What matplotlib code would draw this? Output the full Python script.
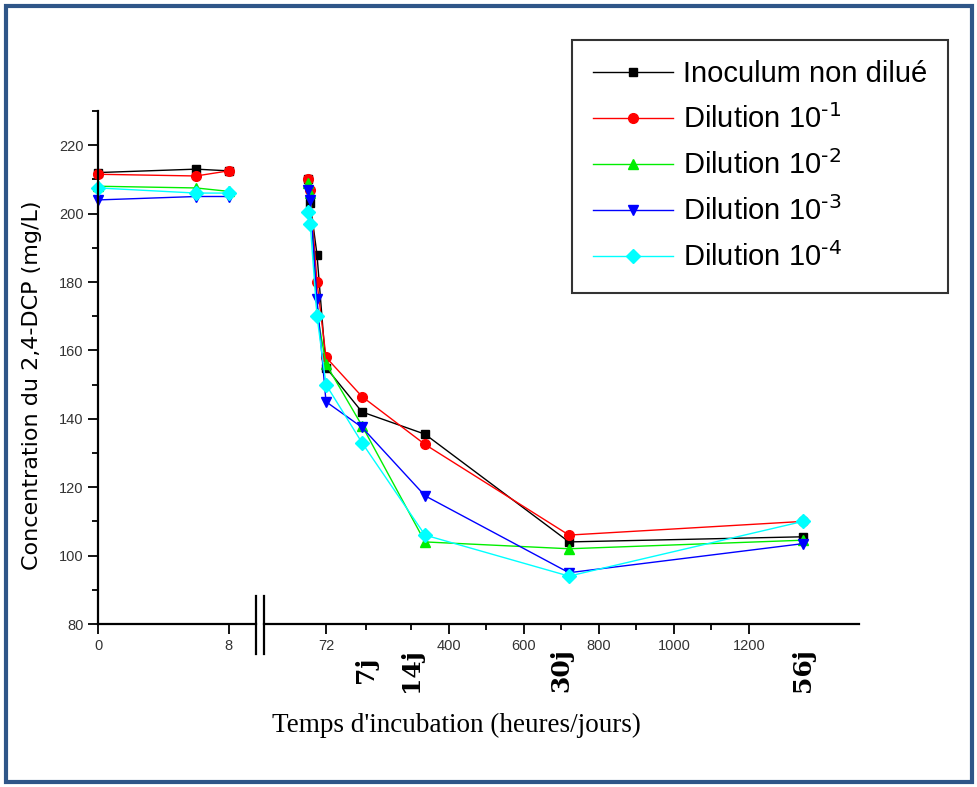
import numpy as np
import matplotlib
matplotlib.use("Agg")
import matplotlib.pyplot as plt
from matplotlib.lines import Line2D
from matplotlib.patches import Rectangle

plt.rcParams['font.family'] = ['Liberation Sans', 'DejaVu Sans']
plt.rcParams['mathtext.default'] = 'regular'

W, H = 978, 787

# sampling times (hours), before and after the axis break
t_left = [0, 6, 8]
t_right = [24, 30, 48, 72, 168, 336, 720, 1344]

# 2,4-DCP concentration (mg/L)
black_l = [212, 213, 212.5]
red_l = [211.5, 211, 212.5]
green_l = [208, 207.5, 206.5]
blue_l = [204, 205, 205]
cyan_l = [207.5, 206, 206]

black_r = [210, 203, 188, 155, 142, 135.5, 104, 105.5]
red_r = [210, 207, 180, 158, 146.5, 132.5, 106, 110]
green_r = [209, 206, 171, 156, 138, 104, 102, 104.5]
blue_r = [207, 204, 175, 145, 137.5, 117.5, 95, 103.5]
cyan_r = [200.5, 197, 170, 150, 133, 106, 94, 110]

labels = ['Inoculum non dilué', r'Dilution 10$^{\text{-1}}$', r'Dilution 10$^{\text{-2}}$',
          r'Dilution 10$^{\text{-3}}$', r'Dilution 10$^{\text{-4}}$']
colors = ['#000000', '#ff0000', '#00ee00', '#0000ff', '#00ffff']
markers = ['s', 'o', '^', 'v', 'D']
msizes = [6, 7, 7.5, 7.5, 7]

left_series = [black_l, red_l, green_l, blue_l, cyan_l]
right_series = [black_r, red_r, green_r, blue_r, cyan_r]


def fx(px):
    return px / W


def fy(py):
    return 1 - py / H


fig = plt.figure(figsize=(W / 100, H / 100), dpi=100)

y0, y1 = 624, 111
axL = fig.add_axes([fx(98.3), fy(y0), (255.7 - 98.3) / W, (y0 - y1) / H])
axR = fig.add_axes([fx(264.3), fy(y0), (858.6 - 264.3) / W, (y0 - y1) / H])

for i in range(5):
    axL.plot(t_left, left_series[i], color=colors[i], marker=markers[i],
             markersize=msizes[i], linewidth=1.0, clip_on=False)
    axR.plot(t_right, right_series[i], color=colors[i], marker=markers[i],
             markersize=msizes[i], linewidth=1.0, clip_on=False)

for ax in (axL, axR):
    ax.set_ylim(80, 230)
    ax.spines['top'].set_visible(False)
    ax.spines['right'].set_visible(False)
    ax.spines['bottom'].set_linewidth(1.6)
    ax.tick_params(axis='both', which='major', direction='out', length=7,
                   width=1.3, labelsize=10.5, labelcolor='#333333')
    ax.tick_params(axis='both', which='minor', direction='out', length=4, width=1.3)

axL.set_xlim(0, (255.7 - 98.3) / 16.3)
axL.set_xticks([0, 8])
axL.set_xticklabels(['0', '8'])
axL.set_yticks(np.arange(80, 221, 20))
axL.set_yticks(np.arange(90, 231, 20), minor=True)
axL.spines['left'].set_linewidth(1.6)
axL.set_ylabel('Concentration du 2,4-DCP (mg/L)', fontsize=16, family='DejaVu Sans')
axL.yaxis.set_label_coords((42 - 98.3) / 157.4, 0.466)

axR.set_xlim(-(299 - 264.3) / 0.375, (858.6 - 299) / 0.375)
axR.spines['left'].set_visible(False)
axR.set_yticks([])
axR.set_xticks([72, 400, 600, 800, 1000, 1200])
axR.set_xticks([180, 300, 500, 700, 900, 1100], minor=True)

# day labels written under the time axis
for xv, txt in [(180, '7j'), (300, '14j'), (700, '30j'), (1344, '56j')]:
    axR.annotate(txt, xy=(xv, 80), xycoords='data', xytext=(0, -33),
                 textcoords='offset points', rotation=90, ha='center', va='center',
                 fontsize=18, fontweight='bold', family='DejaVu Serif')

# axis break marks
for bx in (255.7, 264.3):
    fig.add_artist(Line2D([fx(bx), fx(bx)], [fy(596), fy(654)],
                          color='black', linewidth=1.6))

fig.text(fx(456), fy(725), "Temps d'incubation (heures/jours)", ha='center',
         va='center', fontsize=19.5, family='Liberation Serif')

handles = [Line2D([], [], color=colors[i], marker=markers[i], markersize=msizes[i],
                  linewidth=1.0) for i in range(5)]
leg = fig.legend(handles, labels, loc='upper right',
                 bbox_to_anchor=(fx(948), fy(40)), borderaxespad=0,
                 fontsize=21, handlelength=2.75, handletextpad=0.35,
                 labelspacing=0.55, borderpad=0.7, frameon=True, fancybox=False)
leg.get_frame().set_edgecolor('black')
leg.get_frame().set_linewidth(1.5)

fig.add_artist(Rectangle((fx(6), fy(782)), (972 - 6) / W, (782 - 6) / H,
                         fill=False, edgecolor='#2f5688', linewidth=3,
                         transform=fig.transFigure))

fig.savefig('out.png', dpi=100)
